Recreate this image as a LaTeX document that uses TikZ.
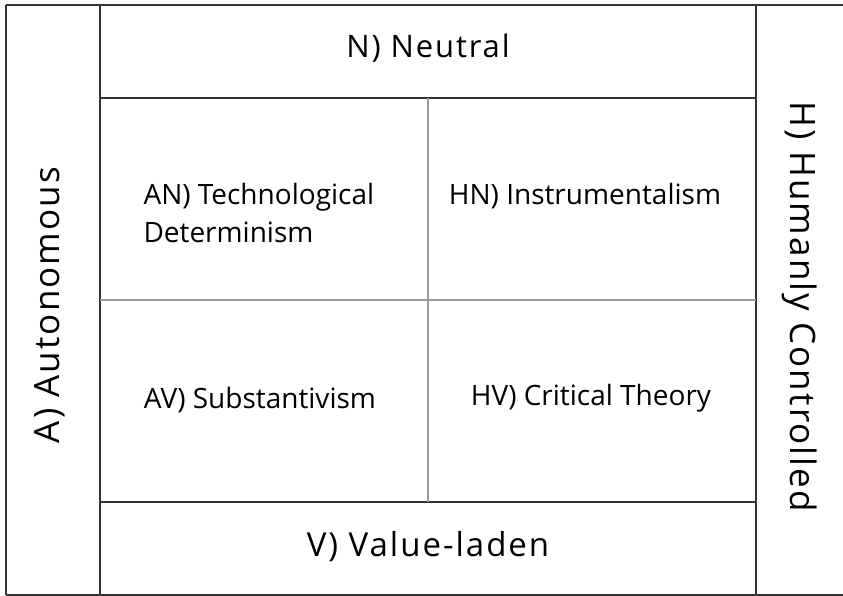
\documentclass[tikz,border=0pt]{standalone}
\usepackage{fontspec}
\setmainfont{Open Sans}
\newfontfamily\axisfont[LetterSpace=6]{Open Sans}

\begin{document}
\begin{tikzpicture}[x=1pt, y=-1pt,
    frame/.style={line width=2pt, draw=black!80}, % Outer bands
    divider/.style={line width=1.2pt, draw=black!40}, % Quadrant cross
    axis/.style={font=\axisfont\fontsize{33}{40}\selectfont, text=black},
    sideaxis/.style={axis, font=\axisfont\fontsize{35}{42}\selectfont},
    view/.style={font=\fontsize{28}{38}\selectfont, align=left, text=black}
]
\useasboundingbox (0,0) rectangle (843,596);

% Outer frame and bands
\draw[frame] (6,5) -- (843,5);
\draw[frame] (6,595) -- (843,595);
\draw[frame] (6,5) -- (6,595);
\draw[frame] (100,5) -- (100,595);
\draw[frame] (756,5) -- (756,595);
\draw[frame] (100,98) -- (756,98);
\draw[frame] (100,502) -- (756,502);

% Quadrant dividers
\draw[divider] (428,98) -- (428,502);
\draw[divider] (100,300) -- (756,300);

% Axis labels
\node[axis, font=\axisfont\fontsize{31}{38}\selectfont] (neutral) at (428,48) {N) Neutral};
\node[axis] (valueladen) at (428,547) {V) Value-laden};
\node[sideaxis, rotate=90] (autonomous) at (50,305) {A) Autonomous};
\node[sideaxis, rotate=-90] (humanly) at (800,307) {H) Humanly Controlled};

% Quadrant labels
\node[view, anchor=west] (an) at (140,213) {AN) Technological\\Determinism};
\node[view] (hn) at (585,196) {HN) Instrumentalism};
\node[view] (av) at (260,400) {AV) Substantivism};
\node[view] (hv) at (591,398) {HV) Critical Theory};

\end{tikzpicture}
\end{document}
